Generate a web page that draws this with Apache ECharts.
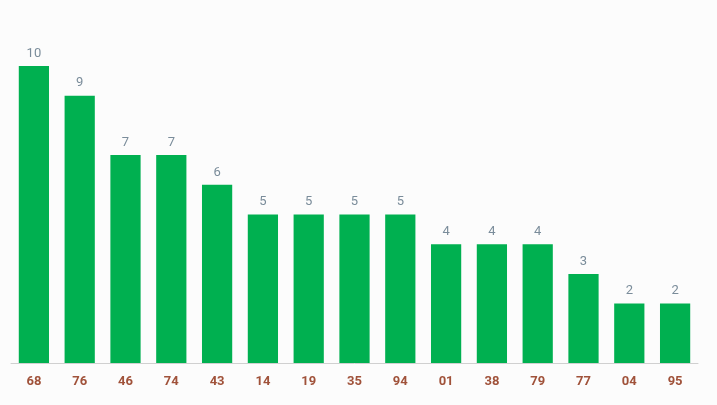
<!DOCTYPE html>
<html>
<head>
<meta charset="utf-8">
<script src="https://cdn.jsdelivr.net/npm/echarts@6/dist/echarts.min.js"></script>
<style>
  html, body { margin: 0; padding: 0; background: #fcfcfc; }
  #main { width: 717px; height: 405px; }
</style>
</head>
<body>
<div id="main"></div>
<script>
  // 号码和出现次数
  var categories = ['68', '76', '46', '74', '43', '14', '19', '35', '94', '01', '38', '79', '77', '04', '95'];
  var counts = [10, 9, 7, 7, 6, 5, 5, 5, 5, 4, 4, 4, 3, 2, 2];

  var myChart = echarts.init(document.getElementById('main'));
  var option = {
    backgroundColor: '#fcfcfc',
    animation: false,
    grid: { left: 11, right: 19, top: 66, bottom: 42 },
    xAxis: {
      type: 'category',
      data: categories,
      axisTick: { show: false },
      axisLine: { lineStyle: { color: '#d0d0d0' } },
      axisLabel: {
        margin: 12,
        fontFamily: 'Roboto',
        fontSize: 13,
        fontWeight: 'bold',
        color: '#a0523a'
      }
    },
    yAxis: {
      type: 'value',
      min: 0,
      max: 10,
      show: false,
      splitLine: { show: false }
    },
    series: [{
      type: 'bar',
      data: counts,
      barWidth: '66%',
      itemStyle: { color: '#00b050' },
      label: {
        show: true,
        position: 'top',
        distance: 6,
        fontFamily: 'Roboto',
        fontSize: 13,
        color: '#7a8c9a'
      }
    }]
  };
  myChart.setOption(option);
  window.addEventListener('resize', () => { myChart.resize(); });
</script>
</body>
</html>
